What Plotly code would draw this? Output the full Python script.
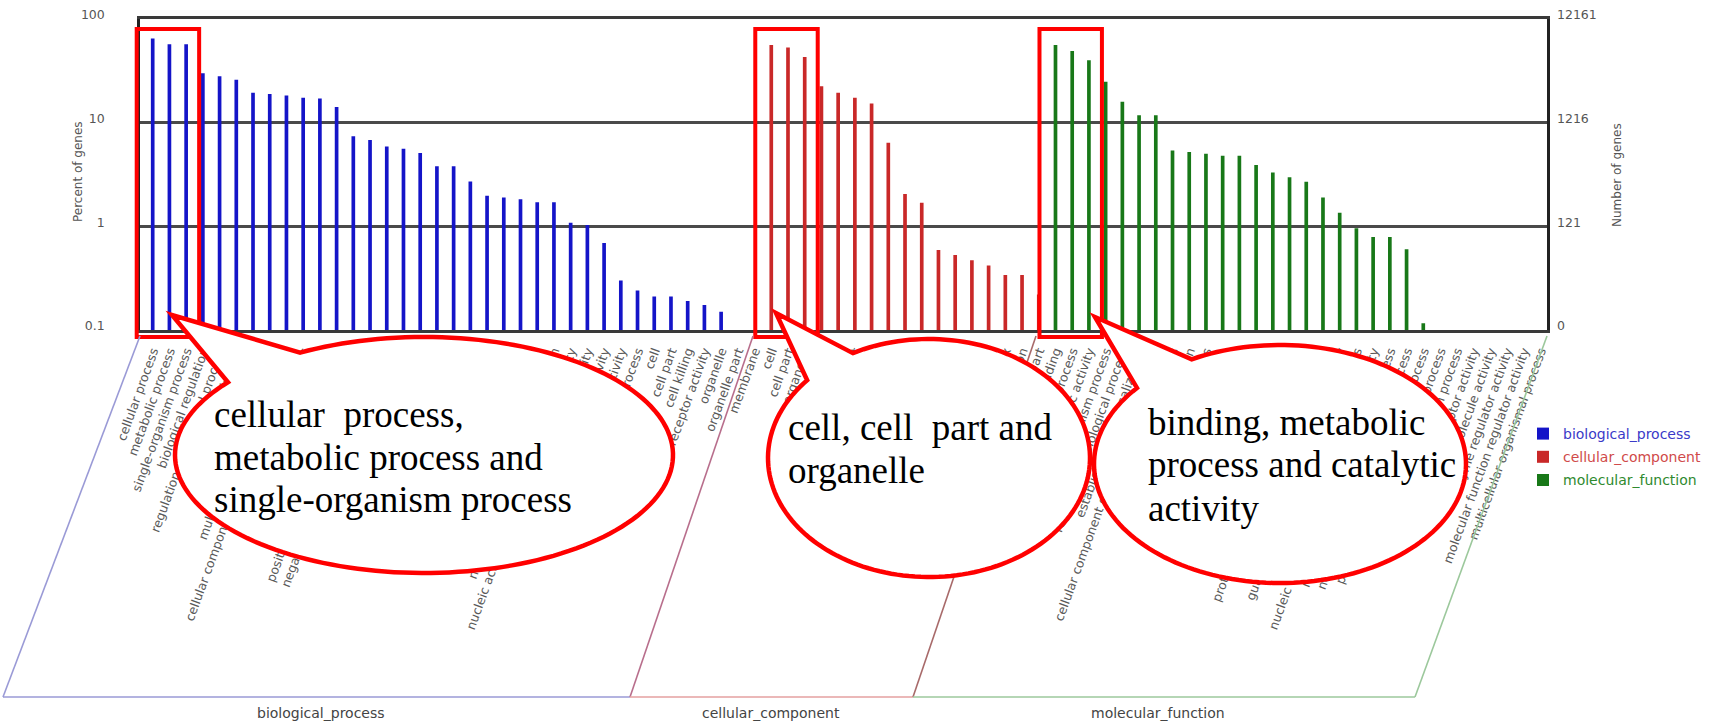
import numpy as np
import plotly.graph_objects as go

# ---------------- data ----------------
bp_terms = [
    "cellular process", "metabolic process", "single-organism process", "biological regulation",
    "regulation of biological process", "response to stimulus", "localization",
    "multicellular organismal process", "cellular component organization or biogenesis",
    "developmental process", "establishment of localization", "signaling",
    "positive regulation of biological process", "negative regulation of biological process",
    "reproduction", "reproductive process", "multi-organism process", "growth",
    "immune system process", "positive regulation of cellular process", "locomotion",
    "pigmentation", "biological adhesion", "detoxification", "negative regulation of gene expression",
    "nucleic acid binding transcription factor activity", "transporter activity",
    "antioxidant activity", "molecular transducer activity", "rhythmic process",
    "cell", "cell part", "cell killing", "receptor activity", "organelle", "organelle part", "membrane",
]
bp_values = [65, 57, 57, 30, 28, 26, 19.4, 18.9, 18.3, 17.4, 17.1, 14.2, 7.4, 6.8, 5.9, 5.6,
             5.1, 3.8, 3.8, 2.7, 1.97, 1.9, 1.83, 1.71, 1.71, 1.08, 1.03, 0.69, 0.30, 0.24,
             0.21, 0.21, 0.19, 0.174, 0.15, None, None]

cc_terms = [
    "cell", "cell part", "organelle", "membrane", "organelle part", "membrane part",
    "macromolecular complex", "membrane-enclosed lumen", "extracellular region", "cell junction",
    "symplast", "extracellular region part", "synapse", "nucleoid", "extracellular matrix",
    "virion", "virion part",
]
cc_values = [56, 53, 43, 22.5, 19.4, 17.4, 15.3, 6.4, 2.05, 1.69, 0.59, 0.53, 0.47, 0.42,
             0.34, 0.34, 0.22]

mf_terms = [
    "binding", "metabolic process", "catalytic activity", "single-organism process",
    "regulation of biological process", "establishment of localization",
    "cellular component organization or biogenesis", "response to stimulus", "localization",
    "developmental process", "reproduction", "signaling", "transporter activity",
    "biological regulation", "multi-organism process",
    "protein binding transcription factor activity", "positive regulation of biological process",
    "guanyl-nucleotide exchange factor activity", "cellular component biogenesis",
    "nucleic acid binding transcription factor activity", "negative regulation of biological process",
    "negative regulation of metabolic process", "positive regulation of metabolic process",
    "rhythmic process", "immune system process", "receptor activity", "structural molecule activity",
    "enzyme regulator activity", "molecular function regulator activity",
    "multicellular organismal process",
]
mf_values = [56, 49, 40, 24.8, 15.9, 11.8, 11.8, 5.4, 5.2, 5.0, 4.8, 4.8, 3.9, 3.3, 2.97,
             2.69, 1.9, 1.35, 0.96, 0.79, 0.79, 0.60, 0.116, None, None, None, None, None,
             None, None]

ontology_names = ["biological_process", "cellular_component", "molecular_function"]
bar_colors = ["#1414c8", "#c92828", "#187818"]
legend_text_colors = ["#3a3ac8", "#d04a4a", "#2f8a2f"]
section_line_colors = ["#9a9ad6", "#e4a0a0", "#9cc89c"]

percent_ticks = [0.1, 1, 10, 100]
percent_labels = ["0.1", "1", "10", "100"]
gene_count_labels = ["0", "121", "1216", "12161"]

callout_texts = [
    ["cellular\u00a0 process,", "metabolic process and", "single-organism process"],
    ["cell, cell\u00a0 part and", "organelle"],
    ["binding, metabolic", "process and catalytic", "activity"],
]

# ---------------- geometry (pixels) ----------------
W, H = 1721, 728
L, R, T, B = 140, 1547, 19, 330
X_RANGE = [-0.76, 83.4]


def px_x(i):
    return L + (i - X_RANGE[0]) / (X_RANGE[1] - X_RANGE[0]) * (R - L)


def pap_x(px):
    return (px - L) / (R - L)


def pap_y(py):
    return (B - py) / (B - T)


groups = [(bp_terms, bp_values), (cc_terms, cc_values), (mf_terms, mf_values)]
fig = go.Figure()
all_terms, all_x, all_vals = [], [], []
starts = []
offset = 0
for k, (terms, vals) in enumerate(groups):
    xs = list(range(offset, offset + len(terms)))
    starts.append(offset)
    all_terms += terms
    all_x += xs
    all_vals += vals
    fig.add_trace(go.Bar(
        x=xs, y=vals, width=0.22,
        marker=dict(color=bar_colors[k], line=dict(width=0)),
        name=f"<span style='color:{legend_text_colors[k]}'>{ontology_names[k]}</span>",
        legendgroup=ontology_names[k],
    ))
    offset += len(terms)

# same percentages on the right-hand "Number of genes" axis (invisible carrier trace)
fig.add_trace(go.Scatter(x=all_x, y=all_vals, yaxis="y2", mode="markers",
                         marker=dict(opacity=0, size=1), showlegend=False, hoverinfo="skip"))

shapes = []
annotations = []

# red highlight rectangles around the top three bars of each group
for s in starts:
    x0 = px_x(s) - 16
    x1 = px_x(s + 2) + 13
    shapes.append(dict(type="rect", xref="paper", yref="paper",
                       x0=pap_x(x0), x1=pap_x(x1), y0=pap_y(337), y1=pap_y(29),
                       line=dict(color="#ff0000", width=4), fillcolor="rgba(0,0,0,0)"))

# ontology brackets below the labels
bottom_y = 697
top_y = 336
bracket = [
    ((140, top_y), (3, bottom_y), section_line_colors[0]),
    ((3, bottom_y), (630, bottom_y), section_line_colors[0]),
    ((753, top_y), (630, bottom_y), "#b86e8c"),
    ((630, bottom_y), (913, bottom_y), section_line_colors[1]),
    ((1036, top_y), (913, bottom_y), "#a86a6a"),
    ((913, bottom_y), (1415, bottom_y), section_line_colors[2]),
    ((1547, top_y), (1415, bottom_y), section_line_colors[2]),
]
for (a, b, c) in bracket:
    shapes.append(dict(type="line", xref="paper", yref="paper",
                       x0=pap_x(a[0]), y0=pap_y(a[1]), x1=pap_x(b[0]), y1=pap_y(b[1]),
                       line=dict(color=c, width=1.6)))
for name, cxp in zip(ontology_names, [321, 771, 1158]):
    annotations.append(dict(xref="paper", yref="paper", x=pap_x(cxp), y=pap_y(713),
                            text=name, showarrow=False, xanchor="center", yanchor="middle",
                            font=dict(family="DejaVu Sans", size=14, color="#444")))

# speech bubbles
bubbles = [
    dict(c=(424, 455), r=(249, 118), a=(303, 355), tip=(172, 315), b=(230, 383),
         tx=212, lines_y=[414, 457, 500]),
    dict(c=(929, 458), r=(161, 119), a=(855, 356), tip=(776, 313), b=(810, 382),
         tx=786, lines_y=[427, 470]),
    dict(c=(1280, 464), r=(186, 119), a=(1194, 362), tip=(1095, 317), b=(1139, 389),
         tx=1146, lines_y=[422, 465, 508]),
]
for bub, texts in zip(bubbles, callout_texts):
    cx, cy = bub["c"]
    rx, ry = bub["r"]
    ta = np.arctan2((bub["a"][1] - cy) / ry, (bub["a"][0] - cx) / rx)
    tb = np.arctan2((bub["b"][1] - cy) / ry, (bub["b"][0] - cx) / rx)
    if tb < ta:
        tb += 2 * np.pi
    ts = np.linspace(ta, tb, 160)
    pts = [(cx + rx * np.cos(t), cy + ry * np.sin(t)) for t in ts]
    pts.append(bub["tip"])
    path = "M " + " L ".join(f"{pap_x(x):.5f},{pap_y(y):.5f}" for x, y in pts) + " Z"
    shapes.append(dict(type="path", xref="paper", yref="paper", path=path,
                       line=dict(color="#ff0000", width=4.5), fillcolor="white"))
    for txt, ly in zip(texts, bub["lines_y"]):
        annotations.append(dict(xref="paper", yref="paper", x=pap_x(bub["tx"]), y=pap_y(ly),
                                text=txt, showarrow=False, xanchor="left", yanchor="middle",
                                font=dict(family="Liberation Serif", size=37, color="black")))

# axis titles
annotations.append(dict(xref="paper", yref="paper", x=pap_x(78), y=pap_y(172),
                        text="Percent of genes", textangle=-90, showarrow=False,
                        xanchor="center", yanchor="middle",
                        font=dict(family="DejaVu Sans", size=12, color="#555")))
annotations.append(dict(xref="paper", yref="paper", x=pap_x(1617), y=pap_y(175),
                        text="Number of genes", textangle=-90, showarrow=False,
                        xanchor="center", yanchor="middle",
                        font=dict(family="DejaVu Sans", size=12, color="#555")))

fig.update_layout(
    width=W, height=H,
    margin=dict(l=L, r=W - R, t=T, b=H - B, autoexpand=False),
    paper_bgcolor="white", plot_bgcolor="white",
    showlegend=True,
    barmode="overlay",
    legend=dict(x=pap_x(1523), y=pap_y(418), xanchor="left", yanchor="top",
                font=dict(family="DejaVu Sans", size=14, color="#444"),
                bgcolor="rgba(0,0,0,0)", tracegroupgap=2, itemwidth=30),
    xaxis=dict(range=X_RANGE, tickmode="array", tickvals=list(range(len(all_terms))),
               ticktext=all_terms, tickangle=-70, ticks="", showgrid=False, zeroline=False,
               showline=True, mirror=True, linecolor="#3a3a3a", linewidth=3,
               tickfont=dict(family="DejaVu Sans", size=12.5, color="#5a5a5a"),
               automargin=False, ticklabelstandoff=6),
    yaxis=dict(type="log", range=[-1, 2], tickmode="array", tickvals=percent_ticks,
               ticktext=percent_labels, showgrid=True, gridcolor="#4a4a4a", gridwidth=2.5,
               showline=True, mirror=True, linecolor="#222", linewidth=2.5, ticks="",
               tickfont=dict(family="DejaVu Sans", size=12.5, color="#555"),
               automargin=False, ticklabelstandoff=30, ticklabelshift=-4),
    yaxis2=dict(type="log", range=[-1, 2], overlaying="y", side="right", anchor="x",
                tickmode="array", tickvals=percent_ticks, ticktext=gene_count_labels,
                showgrid=False, showline=False, ticks="", zeroline=False,
                tickfont=dict(family="DejaVu Sans", size=12.5, color="#555"),
                automargin=False, ticklabelstandoff=9, ticklabelshift=-4),
    shapes=shapes,
    annotations=annotations,
)

fig.write_html("out.html", config={"displayModeBar": False},
               post_script="document.body.style.margin='0px';")
